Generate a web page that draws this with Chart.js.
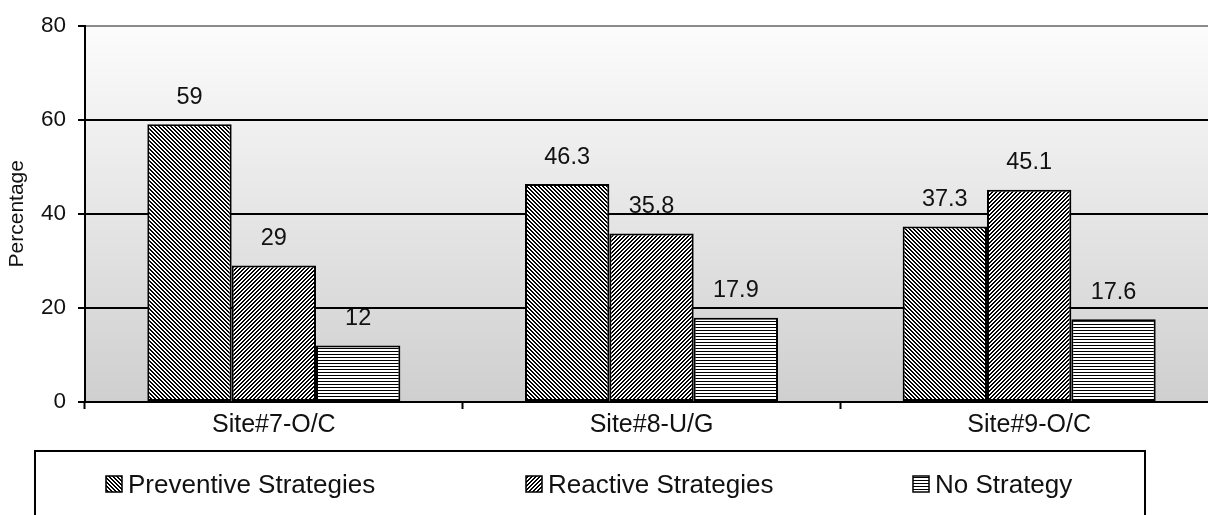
<!DOCTYPE html>
<html>
<head>
<meta charset="utf-8">
<script src="https://cdn.jsdelivr.net/npm/chart.js@4/dist/chart.umd.min.js"></script>
<style>
  html, body { margin: 0; padding: 0; background: #fff; overflow: hidden; }
  #wrap { position: absolute; left: 0; top: 0; width: 1220px; height: 515px; }
</style>
</head>
<body>
<div id="wrap"><canvas id="chart"></canvas></div>
<script>
// Survey results per site
const sites = ['Site#7-O/C', 'Site#8-U/G', 'Site#9-O/C'];
const seriesNames = ['Preventive Strategies', 'Reactive Strategies', 'No Strategy'];
const preventive = [59, 46.3, 37.3];
const reactive = [29, 35.8, 45.1];
const noStrategy = [12, 17.9, 17.6];
const yTicks = [0, 20, 40, 60, 80];

const FONT = '"Liberation Sans", Arial, Helvetica, sans-serif';

// Monochrome hatch fills
function hatch(kind) {
  const size = kind === 'horizontal' ? 3 : 4;
  const c = document.createElement('canvas');
  c.width = size; c.height = size;
  const g = c.getContext('2d');
  g.fillStyle = '#fff';
  g.fillRect(0, 0, size, size);
  g.fillStyle = '#000';
  for (let y = 0; y < size; y++) {
    if (kind === 'back') {
      g.fillRect(y % size, y, 1, 1);
      g.fillRect((y + 1) % size, y, 1, 1);
    } else if (kind === 'forward') {
      g.fillRect((size - 1 - y + size) % size, y, 1, 1);
      g.fillRect((size - y + size) % size, y, 1, 1);
    }
  }
  if (kind === 'horizontal') g.fillRect(0, 0, size, 1);
  return g.createPattern(c, 'repeat');
}
const fills = [hatch('back'), hatch('forward'), hatch('horizontal')];

// Plot-area gradient plus value labels (drawn under the grid lines)
const backdrop = {
  id: 'backdrop',
  beforeDraw(chart) {
    const { ctx, chartArea: a } = chart;
    const grad = ctx.createLinearGradient(0, a.top, 0, a.bottom);
    grad.addColorStop(0, '#fcfcfc');
    grad.addColorStop(1, '#cfcfcf');
    ctx.save();
    ctx.fillStyle = grad;
    ctx.fillRect(a.left, a.top, a.right - a.left, a.bottom - a.top);
    ctx.fillStyle = '#111';
    ctx.font = '23.5px ' + FONT;
    ctx.textAlign = 'center';
    ctx.textBaseline = 'middle';
    chart.data.datasets.forEach((ds, i) => {
      chart.getDatasetMeta(i).data.forEach((bar, j) => {
        ctx.fillText(String(ds.data[j]), bar.x, bar.y - 27);
      });
    });
    ctx.restore();
  }
};

// Boxed legend below the axis
const boxLegend = {
  id: 'boxLegend',
  afterDraw(chart) {
    const { ctx, chartArea: a } = chart;
    const top = a.bottom + 49;
    const left = a.left - 50;
    ctx.save();
    ctx.strokeStyle = '#000';
    ctx.lineWidth = 2;
    ctx.strokeRect(left, top, 1110, 120);
    const itemX = [106, 526, 913];
    const base = top + 42;
    ctx.font = '26px ' + FONT;
    ctx.textBaseline = 'alphabetic';
    ctx.textAlign = 'left';
    chart.data.datasets.forEach((ds, i) => {
      const x = itemX[i];
      ctx.fillStyle = ds.backgroundColor;
      ctx.fillRect(x, base - 17, 16, 16);
      ctx.lineWidth = 1.5;
      ctx.strokeStyle = '#000';
      ctx.strokeRect(x, base - 17, 16, 16);
      ctx.fillStyle = '#111';
      ctx.fillText(ds.label, x + 22, base);
    });
    ctx.restore();
  }
};

const datasets = [preventive, reactive, noStrategy].map((vals, i) => ({
  label: seriesNames[i],
  data: vals,
  backgroundColor: fills[i],
  borderColor: '#000',
  borderWidth: 2,
  borderSkipped: false,
  barPercentage: 1,
  categoryPercentage: 0.67
}));

new Chart(document.getElementById('chart'), {
  type: 'bar',
  data: { labels: sites, datasets },
  options: {
    responsive: true,
    maintainAspectRatio: false,
    animation: false,
    events: [],
    layout: { padding: { top: 22, right: 2, bottom: 64, left: 0 } },
    plugins: { legend: { display: false }, tooltip: { enabled: false } },
    scales: {
      x: {
        afterFit(s) { s.height = 49; },
        grid: {
          drawOnChartArea: false,
          drawTicks: true,
          tickLength: 7,
          tickColor: '#000',
          tickWidth: 2,
          offset: true
        },
        border: { display: true, color: '#000', width: 2 },
        ticks: { color: '#111', font: { family: FONT, size: 25 }, padding: 1 }
      },
      y: {
        min: 0,
        max: 80,
        afterFit(s) { s.width = 85; },
        afterBuildTicks(s) { s.ticks = yTicks.map(v => ({ value: v })); },
        grid: {
          color: c => (c.tick && c.tick.value === 80 ? '#8a8a8a' : '#000'),
          lineWidth: 2,
          tickLength: 7,
          tickColor: '#000',
          tickWidth: 2
        },
        border: { display: true, color: '#000', width: 2 },
        ticks: { color: '#111', font: { family: FONT, size: 22.5 }, padding: 12 },
        title: {
          display: true,
          text: 'Percentage',
          color: '#111',
          font: { family: FONT, size: 21 },
          padding: { top: 5, bottom: 0 }
        }
      }
    }
  },
  plugins: [backdrop, boxLegend]
});
</script>
</body>
</html>
